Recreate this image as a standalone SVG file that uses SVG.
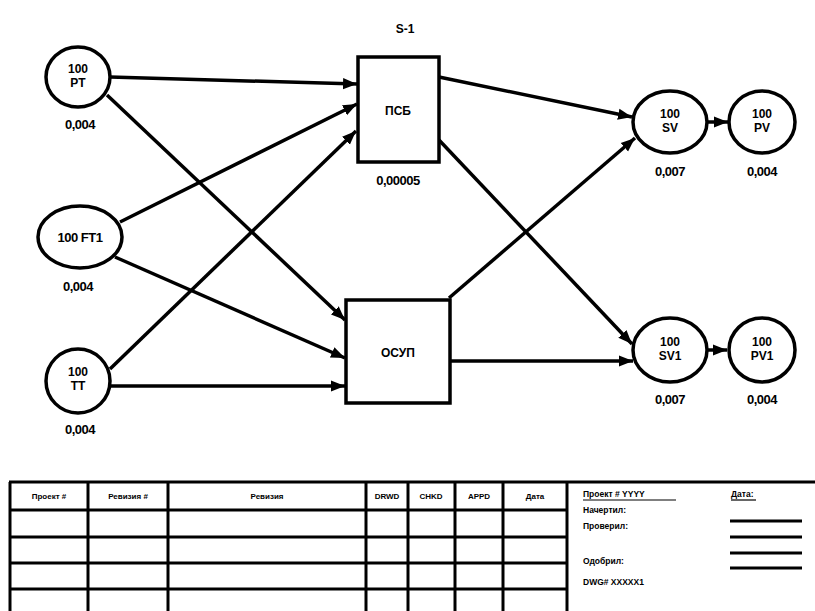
<svg xmlns="http://www.w3.org/2000/svg" width="815" height="611" viewBox="0 0 815 611">
<defs>
<marker id="ah" viewBox="0 0 10 10" refX="10" refY="5" markerWidth="4" markerHeight="4" markerUnits="strokeWidth" orient="auto">
<path d="M0,1 L10,5 L0,9 z" fill="#000"/>
</marker>
<style>
.n{fill:#fff;stroke:#000;stroke-width:3.5}
.t{font-family:"Liberation Sans",Arial,sans-serif;font-weight:bold;font-size:12px;fill:#000;text-anchor:middle}
.v{font-family:"Liberation Sans",Arial,sans-serif;font-weight:bold;font-size:13px;fill:#000;text-anchor:middle;letter-spacing:-0.5px}
.c{fill:none;stroke:#000;stroke-width:3.5;marker-end:url(#ah)}
.g{fill:none;stroke:#000;stroke-width:3}
.h{font-family:"Liberation Sans",Arial,sans-serif;font-weight:bold;font-size:8px;fill:#000;text-anchor:middle}
.r{font-family:"Liberation Sans",Arial,sans-serif;font-weight:bold;font-size:8.5px;fill:#000}
</style>
</defs>
<rect width="815" height="611" fill="#fff"/>
<text class="t" x="405" y="33" font-size="14">S-1</text>
<g id="connectors">
<line class="c" x1="110" y1="77" x2="357" y2="84"/>
<line class="c" x1="107" y1="95" x2="345" y2="320"/>
<line class="c" x1="120" y1="222" x2="357" y2="104"/>
<line class="c" x1="115" y1="257" x2="345" y2="358"/>
<line class="c" x1="110" y1="369" x2="356" y2="131"/>
<line class="c" x1="111" y1="386" x2="345" y2="386"/>
<line class="c" x1="439" y1="77" x2="632" y2="117"/>
<line class="c" x1="439" y1="140" x2="632" y2="344"/>
<line class="c" x1="449" y1="298" x2="635" y2="138"/>
<line class="c" x1="450" y1="361" x2="633" y2="361"/>
<line class="c" x1="707" y1="122" x2="728" y2="122"/>
<line class="c" x1="707" y1="350" x2="727" y2="350"/>
</g>
<g id="PT">
<ellipse class="n" cx="78" cy="77" rx="32" ry="30"/>
<text class="t" x="78" y="73">100</text>
<text class="t" x="78" y="87">PT</text>
<text class="v" x="80" y="129">0,004</text>
</g>
<g id="FT1">
<ellipse class="n" cx="80" cy="237" rx="42" ry="31"/>
<text class="v" x="80" y="242" font-size="12">100 FT1</text>
<text class="v" x="78" y="291">0,004</text>
</g>
<g id="TT">
<ellipse class="n" cx="78" cy="381" rx="32" ry="32"/>
<text class="t" x="78" y="376">100</text>
<text class="t" x="78" y="390">TT</text>
<text class="v" x="80" y="434">0,004</text>
</g>
<g id="PSB">
<rect class="n" x="358" y="57" width="81" height="105"/>
<text class="t" x="398" y="115">ПСБ</text>
<text class="v" x="398" y="185">0,00005</text>
</g>
<g id="OSUP">
<rect class="n" x="346" y="300" width="104" height="103"/>
<text class="t" x="398" y="357">ОСУП</text>
</g>
<g id="SV">
<ellipse class="n" cx="670" cy="122" rx="37" ry="31"/>
<text class="t" x="670" y="118">100</text>
<text class="t" x="670" y="132">SV</text>
<text class="v" x="670" y="176">0,007</text>
</g>
<g id="PV">
<ellipse class="n" cx="762" cy="122" rx="33" ry="31"/>
<text class="t" x="762" y="118">100</text>
<text class="t" x="762" y="132">PV</text>
<text class="v" x="762" y="176">0,004</text>
</g>
<g id="SV1">
<ellipse class="n" cx="670" cy="350" rx="37" ry="32"/>
<text class="t" x="670" y="346">100</text>
<text class="t" x="670" y="360">SV1</text>
<text class="v" x="670" y="404">0,007</text>
</g>
<g id="PV1">
<ellipse class="n" cx="762" cy="350" rx="33" ry="32"/>
<text class="t" x="762" y="346">100</text>
<text class="t" x="762" y="360">PV1</text>
<text class="v" x="762" y="404">0,004</text>
</g>
<g id="titleblock">
<line class="g" x1="9" y1="482" x2="815" y2="482"/>
<line class="g" x1="9" y1="510" x2="567" y2="510"/>
<line class="g" x1="9" y1="537" x2="567" y2="537"/>
<line class="g" x1="9" y1="563" x2="567" y2="563"/>
<line class="g" x1="9" y1="589" x2="567" y2="589"/>
<line class="g" x1="10" y1="482" x2="10" y2="611"/>
<line class="g" x1="88" y1="482" x2="88" y2="611"/>
<line class="g" x1="168" y1="482" x2="168" y2="611"/>
<line class="g" x1="366" y1="482" x2="366" y2="611"/>
<line class="g" x1="408" y1="482" x2="408" y2="611"/>
<line class="g" x1="455" y1="482" x2="455" y2="611"/>
<line class="g" x1="503" y1="482" x2="503" y2="611"/>
<line class="g" x1="567" y1="482" x2="567" y2="611"/>
<text class="h" x="49" y="499">Проект #</text>
<text class="h" x="128" y="499">Ревизия #</text>
<text class="h" x="267" y="499">Ревизия</text>
<text class="h" x="387" y="499">DRWD</text>
<text class="h" x="431" y="499">CHKD</text>
<text class="h" x="479" y="499">APPD</text>
<text class="h" x="535" y="499">Дата</text>
<text class="r" x="583" y="497">Проект # YYYY</text>
<line x1="583" y1="500" x2="676" y2="500" stroke="#000" stroke-width="1.2"/>
<text class="r" x="731" y="497">Дата:</text>
<line x1="731" y1="500" x2="756" y2="500" stroke="#000" stroke-width="1.2"/>
<text class="r" x="583" y="513">Начертил:</text>
<text class="r" x="583" y="529">Проверил:</text>
<text class="r" x="583" y="564">Одобрил:</text>
<text class="r" x="583" y="585">DWG# XXXXX1</text>
<line class="g" x1="730" y1="521" x2="802" y2="521"/>
<line class="g" x1="730" y1="537" x2="802" y2="537"/>
<line class="g" x1="730" y1="553" x2="802" y2="553"/>
<line class="g" x1="730" y1="568" x2="802" y2="568"/>
</g>
</svg>
